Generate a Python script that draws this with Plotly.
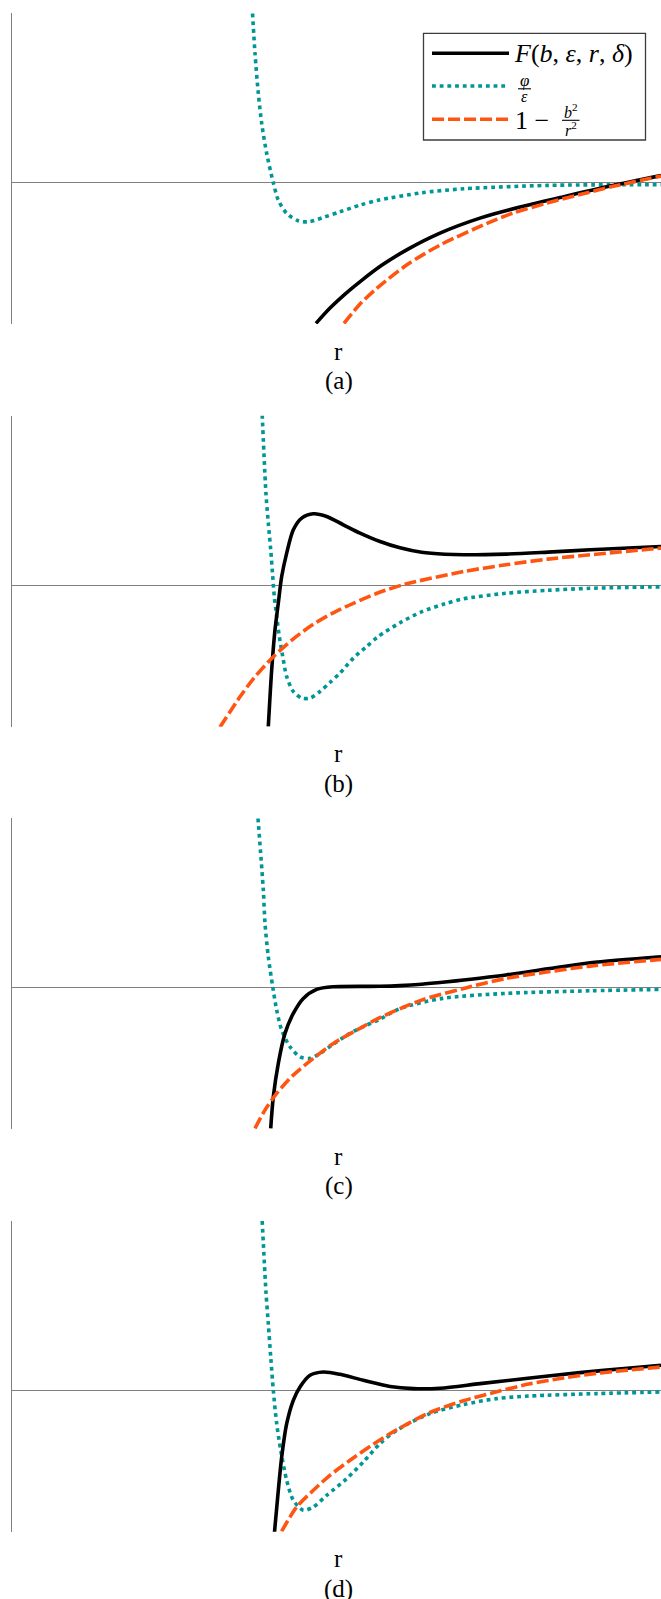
import plotly.graph_objects as go

# ---------------------------------------------------------------
# Curves for four parameter sets (a)-(d); r in arbitrary units.
# F  : effective function F(b, eps, r, delta)
# PHI: potential term phi/eps
# CEN: centrifugal term 1 - b^2/r^2
# ---------------------------------------------------------------

# panel (a)
r_phi_a = [3.711, 3.749, 3.800, 3.852, 3.929, 4.031, 4.108, 4.237, 4.416, 4.570,
           4.801, 5.058, 5.366, 5.658, 6.314, 6.962, 8.260, 10.0]
phi_a = [1.694, 1.294, 0.894, 0.594, 0.294, 0.0, -0.173, -0.306, -0.380, -0.390,
         -0.346, -0.290, -0.223, -0.173, -0.100, -0.060, -0.026, -0.018]
r_F_a = [4.688, 4.904, 5.135, 5.397, 5.705, 6.105, 6.597, 7.213, 7.829, 8.445, 9.215, 10.0]
F_a = [-1.406, -1.253, -1.113, -0.973, -0.823, -0.663, -0.503, -0.353, -0.243, -0.148, -0.033, 0.072]
r_cen_a = [5.119, 5.366, 5.628, 6.105, 6.597, 7.367, 7.721, 8.245, 8.753, 9.246, 10.0]
cen_a = [-1.406, -1.213, -1.053, -0.813, -0.623, -0.393, -0.303, -0.203, -0.118, -0.038, 0.067]

# panel (b)
r_phi_b = [3.860, 3.918, 3.954, 3.991, 4.022, 4.046, 4.083, 4.123, 4.176, 4.237, 4.339, 4.468,
           4.596, 4.750, 4.903, 5.058, 5.263, 5.469, 5.647, 5.981, 6.314, 6.674, 6.962, 7.612,
           8.260, 8.910, 10.0]
phi_b = [1.705, 0.915, 0.622, 0.355, 0.088, -0.112, -0.312, -0.512, -0.712, -0.912, -1.062, -1.128,
         -1.128, -1.062, -0.972, -0.878, -0.728, -0.612, -0.512, -0.375, -0.265, -0.185, -0.135, -0.080,
         -0.050, -0.030, -0.015]
r_F_b = [3.954, 4.006, 4.057, 4.108, 4.160, 4.237, 4.339, 4.468, 4.647, 4.853, 5.109, 5.366,
         5.674, 5.981, 6.314, 6.674, 6.962, 7.612, 8.260, 8.910, 10.0]
F_b = [-1.412, -0.845, -0.445, -0.178, 0.088, 0.322, 0.555, 0.672, 0.715, 0.688, 0.605, 0.522,
       0.438, 0.375, 0.330, 0.310, 0.305, 0.312, 0.332, 0.355, 0.388]
r_cen_b = [3.210, 3.518, 3.723, 4.031, 4.339, 4.647, 4.955, 5.263, 5.647, 6.054, 6.962, 7.612,
           8.260, 8.910, 10.0]
cen_b = [-1.418, -1.115, -0.935, -0.715, -0.535, -0.390, -0.275, -0.180, -0.075, 0.010, 0.138, 0.205,
         0.262, 0.305, 0.372]

# panel (c)
r_phi_c = [3.795, 3.877, 3.903, 3.954, 4.022, 4.083, 4.160, 4.288, 4.442, 4.596, 4.750, 4.955,
           5.212, 5.469, 5.647, 5.989, 6.639, 7.612, 8.910, 10.0]
phi_c = [1.694, 0.977, 0.644, 0.310, 0.010, -0.223, -0.423, -0.590, -0.690, -0.706, -0.656, -0.563,
         -0.456, -0.373, -0.323, -0.206, -0.106, -0.056, -0.030, -0.016]
r_F_c = [3.991, 4.031, 4.108, 4.211, 4.339, 4.493, 4.699, 4.955, 5.674, 5.981, 6.314, 6.674,
         6.962, 7.612, 8.260, 8.910, 10.0]
F_c = [-1.406, -1.090, -0.756, -0.456, -0.256, -0.106, -0.016, 0.010, 0.015, 0.022, 0.036, 0.058,
       0.078, 0.128, 0.190, 0.250, 0.310]
r_cen_c = [3.749, 3.903, 4.083, 4.339, 4.647, 4.955, 5.315, 5.647, 6.314, 6.962, 7.612, 8.260,
           8.910, 10.0]
cen_c = [-1.406, -1.223, -1.056, -0.873, -0.706, -0.556, -0.423, -0.306, -0.123, -0.006, 0.094, 0.160,
         0.217, 0.284]

# panel (d)
r_phi_d = [3.860, 3.918, 3.954, 3.991, 4.031, 4.083, 4.145, 4.237, 4.339, 4.493, 4.647, 4.853,
           5.161, 5.416, 5.674, 5.931, 6.443, 6.956, 7.470, 7.983, 9.010, 10.0]
phi_d = [1.693, 0.983, 0.667, 0.333, 0.0, -0.333, -0.600, -0.900, -1.100, -1.200, -1.167, -1.050,
         -0.883, -0.717, -0.533, -0.400, -0.233, -0.143, -0.083, -0.057, -0.033, -0.017]
r_F_d = [4.049, 4.108, 4.160, 4.237, 4.339, 4.442, 4.596, 4.801, 5.058, 5.416, 5.828, 6.186,
         6.597, 7.213, 7.983, 8.753, 9.523, 10.0]
F_d = [-1.420, -1.000, -0.667, -0.333, -0.100, 0.033, 0.150, 0.183, 0.160, 0.100, 0.038, 0.017,
       0.021, 0.067, 0.123, 0.177, 0.223, 0.250]
r_cen_d = [4.159, 4.391, 4.647, 4.903, 5.212, 5.570, 5.931, 6.443, 6.956, 7.470, 7.983, 8.496,
           9.010, 10.0]
cen_d = [-1.410, -1.167, -1.000, -0.850, -0.700, -0.540, -0.395, -0.222, -0.105, -0.015, 0.065, 0.123,
         0.170, 0.233]

panels = [
    ("(a)", r_F_a, F_a, r_phi_a, phi_a, r_cen_a, cen_a),
    ("(b)", r_F_b, F_b, r_phi_b, phi_b, r_cen_b, cen_b),
    ("(c)", r_F_c, F_c, r_phi_c, phi_c, r_cen_c, cen_c),
    ("(d)", r_F_d, F_d, r_phi_d, phi_d, r_cen_d, cen_d),
]

# ---------------------------------------------------------------
# styling / layout
# ---------------------------------------------------------------
W, H = 661, 1599
BLACK = "#000000"
TEAL = "#009696"
ORANGE = "#FF5511"
AXIS_GREY = "#808080"
LW = 3.6
DOT = "3.8px,3.9px"
DASH = "12px,4px"
SERIF = "Liberation Serif, Times New Roman, serif"

X_LEFT = 11.5             # left edge of every panel (px)
PANEL_TOP0 = 13.3         # top of panel (a) (px)
PANEL_H = 311.0           # panel height (px)
PANEL_STEP = 402.5        # vertical distance between panels (px)
R_RANGE = [0, 10]
V_RANGE = [-1.415, 1.695]


def px_x(p):
    return p / W


def px_y(p):
    return 1 - p / H


fig = go.Figure()
annotations = []
shapes = []
layout_axes = {}

for i, (tag, rF, vF, rP, vP, rC, vC) in enumerate(panels):
    k = "" if i == 0 else str(i + 1)
    top = PANEL_TOP0 + i * PANEL_STEP
    bot = top + PANEL_H
    xa, ya = "x" + k, "y" + k

    common = dict(mode="lines", xaxis=xa, yaxis=ya, showlegend=False, hoverinfo="skip",
                  line_shape="spline")
    fig.add_trace(go.Scatter(x=rP, y=vP, line=dict(color=TEAL, width=LW, dash=DOT, smoothing=0.8),
                             name="φ/ε", **common))
    fig.add_trace(go.Scatter(x=rF, y=vF, line=dict(color=BLACK, width=LW, smoothing=0.8),
                             name="F(b, ε, r, δ)", **common))
    fig.add_trace(go.Scatter(x=rC, y=vC, line=dict(color=ORANGE, width=LW, dash=DASH, smoothing=0.8),
                             name="1 − b²/r²", **common))

    layout_axes["xaxis" + k] = dict(
        domain=[px_x(X_LEFT), 1.0], range=R_RANGE, anchor=ya,
        showgrid=False, zeroline=False, showline=False, showticklabels=False, ticks="",
    )
    layout_axes["yaxis" + k] = dict(
        domain=[px_y(bot), px_y(top)], range=V_RANGE, anchor=xa,
        showgrid=False, zeroline=True, zerolinecolor=AXIS_GREY, zerolinewidth=1.3,
        showline=True, linecolor=AXIS_GREY, linewidth=1.3,
        showticklabels=False, ticks="",
    )

    # axis label and sub-figure caption
    annotations.append(dict(text="r", xref="paper", yref="paper", x=px_x(338.5),
                            y=px_y(bot + 27), xanchor="center", yanchor="middle",
                            showarrow=False, font=dict(family=SERIF, size=25, color="#000")))
    annotations.append(dict(text=tag, xref="paper", yref="paper", x=px_x(338.5),
                            y=px_y(bot + 57), xanchor="center", yanchor="middle",
                            showarrow=False, font=dict(family=SERIF, size=25, color="#000")))

# ---------------------------------------------------------------
# legend box (panel a only), with stacked fractions
# ---------------------------------------------------------------
LEG = dict(x0=423.5, x1=645.5, y0=33.3, y1=140.0)
shapes.append(dict(type="rect", xref="paper", yref="paper",
                   x0=px_x(LEG["x0"]), x1=px_x(LEG["x1"]),
                   y0=px_y(LEG["y1"]), y1=px_y(LEG["y0"]),
                   line=dict(color="#3c3c3c", width=1.3), fillcolor="white", layer="above"))
for ypx, col, dash in [(53.3, BLACK, "solid"), (86.0, TEAL, DOT), (119.3, ORANGE, DASH)]:
    shapes.append(dict(type="line", xref="paper", yref="paper",
                       x0=px_x(432), x1=px_x(509), y0=px_y(ypx), y1=px_y(ypx),
                       line=dict(color=col, width=LW, dash=dash), layer="above"))


def leg_text(txt, xpx, ypx, size, xanchor="left"):
    annotations.append(dict(text=txt, xref="paper", yref="paper", x=px_x(xpx), y=px_y(ypx),
                            xanchor=xanchor, yanchor="middle", showarrow=False,
                            font=dict(family=SERIF, size=size, color="#000")))


leg_text("<i>F</i>(<i>b</i>, <i>ε</i>, <i>r</i>, <i>δ</i>)", 512, 53.0, 26)
# phi over epsilon
leg_text("<i>φ</i>", 524.5, 80.5, 17, "center")
shapes.append(dict(type="line", xref="paper", yref="paper", x0=px_x(518.0), x1=px_x(531.0),
                   y0=px_y(88.8), y1=px_y(88.8), line=dict(color="#000", width=1.1), layer="above"))
leg_text("<i>ε</i>", 524.5, 96.0, 16, "center")
# 1 - b^2 / r^2
leg_text("1 −", 513, 120.0, 26)
leg_text("<i>b</i><sup>2</sup>", 570.5, 111.0, 16, "center")
shapes.append(dict(type="line", xref="paper", yref="paper", x0=px_x(562), x1=px_x(579.5),
                   y0=px_y(120.3), y1=px_y(120.3), line=dict(color="#000", width=1.1), layer="above"))
leg_text("<i>r</i><sup>2</sup>", 570.5, 129.0, 16, "center")

fig.update_layout(
    width=W, height=H,
    margin=dict(l=0, r=0, t=0, b=0),
    paper_bgcolor="white", plot_bgcolor="white",
    annotations=annotations, shapes=shapes,
    **layout_axes,
)

fig.write_html("out.html")
